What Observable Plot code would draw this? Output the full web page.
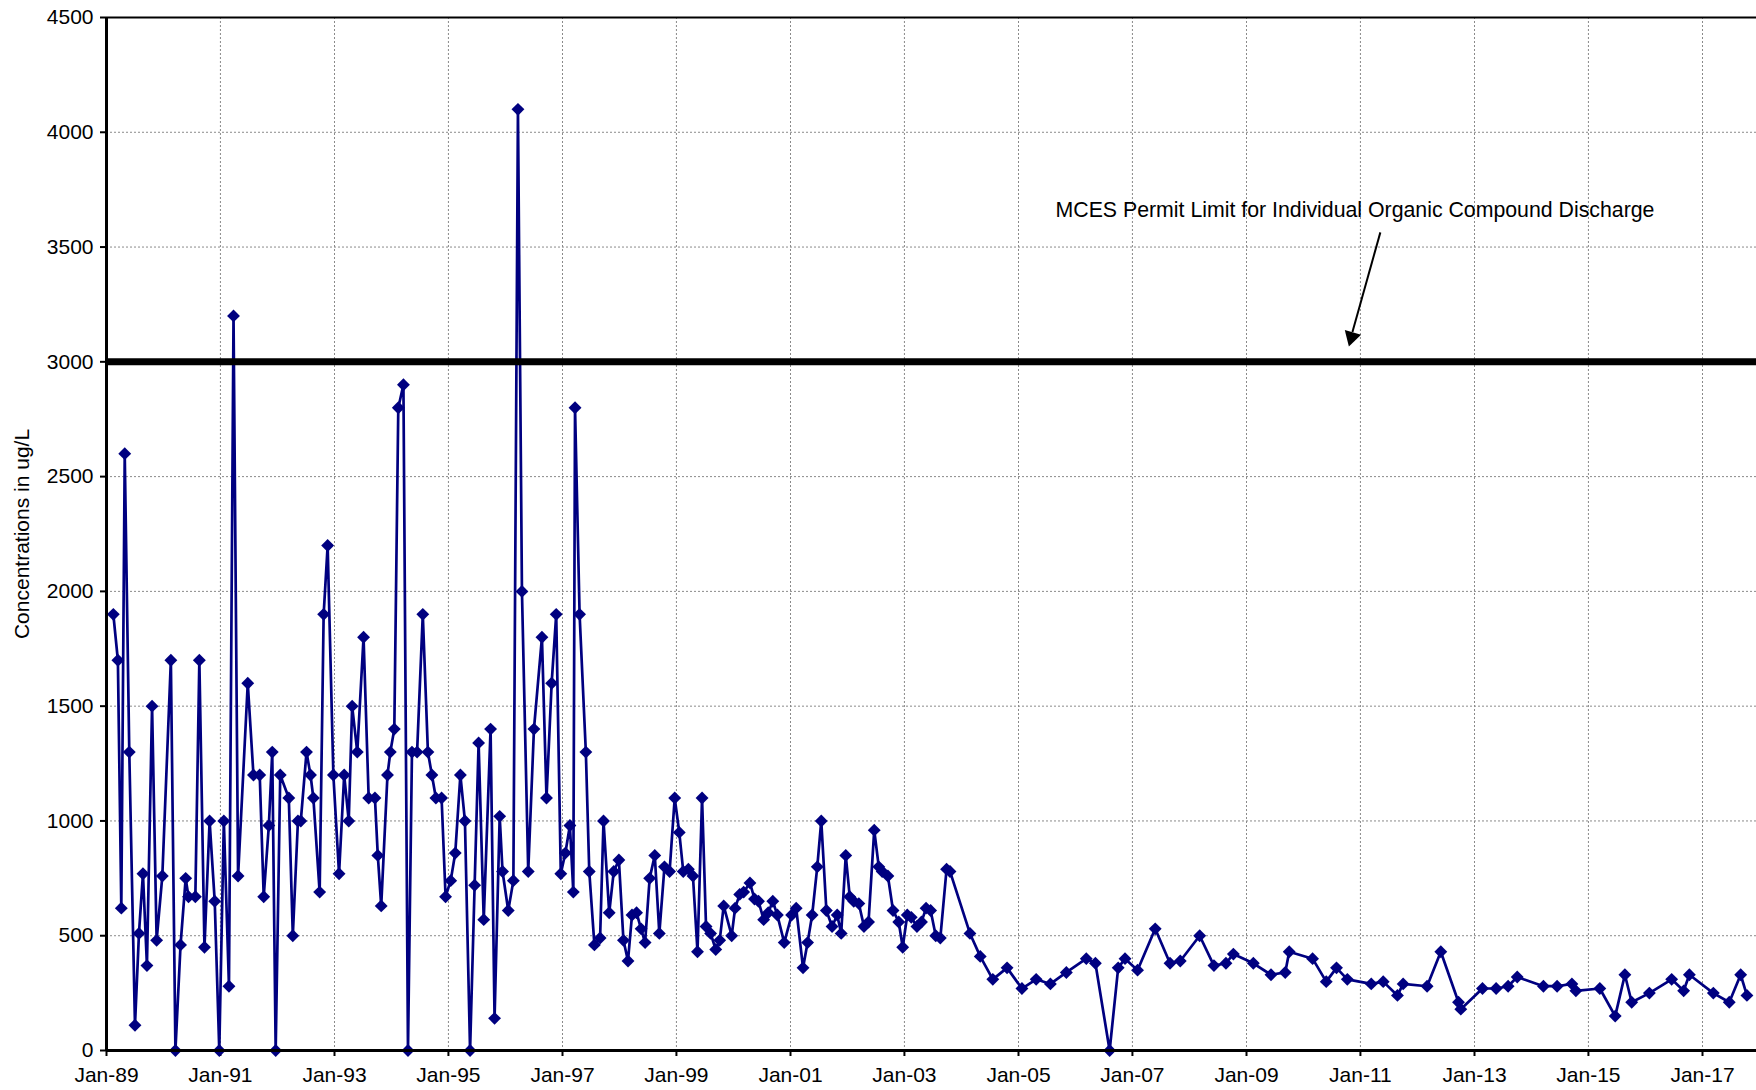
<!DOCTYPE html>
<html>
<head>
<meta charset="utf-8">
<script src="https://cdn.jsdelivr.net/npm/d3@7"></script>
<script src="https://cdn.jsdelivr.net/npm/@observablehq/plot@0.6"></script>
<style>
  html, body { margin: 0; padding: 0; background: #fff; }
  #chart svg { display: block; }
</style>
</head>
<body>
<div id="chart"></div>
<script>
// Sample dates (decimal years) and concentrations (ug/L)
const sampleYears = [
  1989.12, 1989.20, 1989.26, 1989.32, 1989.40, 1989.50, 1989.57, 1989.64, 1989.71, 1989.80, 1989.88, 1989.98,
  1990.13, 1990.21, 1990.30, 1990.39, 1990.44, 1990.56, 1990.63, 1990.72, 1990.81, 1990.90, 1990.98,
  1991.06, 1991.15, 1991.23, 1991.31, 1991.48, 1991.58, 1991.69, 1991.76, 1991.85, 1991.91, 1991.97,
  1992.05, 1992.20, 1992.27, 1992.36, 1992.41, 1992.51, 1992.58, 1992.63, 1992.74, 1992.81, 1992.88, 1992.98,
  1993.08, 1993.17, 1993.25, 1993.31, 1993.40, 1993.51, 1993.60, 1993.71, 1993.76, 1993.82, 1993.93, 1993.98,
  1994.05, 1994.12, 1994.21, 1994.29, 1994.36, 1994.45, 1994.55, 1994.64, 1994.71, 1994.78, 1994.88, 1994.95,
  1995.04, 1995.12, 1995.21, 1995.29, 1995.38, 1995.46, 1995.53, 1995.62, 1995.74, 1995.81, 1995.90, 1995.95,
  1996.05, 1996.14, 1996.22, 1996.29, 1996.40, 1996.50, 1996.64, 1996.72, 1996.81, 1996.89, 1996.97,
  1997.05, 1997.13, 1997.19, 1997.22, 1997.30, 1997.41, 1997.47, 1997.56, 1997.66, 1997.72, 1997.82, 1997.90, 1997.99,
  1998.07, 1998.15, 1998.22, 1998.30, 1998.38, 1998.45, 1998.53, 1998.62, 1998.70, 1998.79, 1998.88, 1998.97,
  1999.05, 1999.12, 1999.21, 1999.29, 1999.37, 1999.45, 1999.52, 1999.60, 1999.69, 1999.76, 1999.83, 1999.97,
  2000.03, 2000.11, 2000.18, 2000.29, 2000.37, 2000.44, 2000.53, 2000.61, 2000.69, 2000.77, 2000.89,
  2001.02, 2001.10, 2001.22, 2001.30, 2001.38, 2001.47, 2001.54, 2001.63, 2001.73, 2001.82, 2001.89, 2001.97,
  2002.04, 2002.11, 2002.20, 2002.29, 2002.37, 2002.47, 2002.55, 2002.61, 2002.71, 2002.80, 2002.90, 2002.97,
  2003.05, 2003.12, 2003.22, 2003.30, 2003.38, 2003.46, 2003.55, 2003.63, 2003.74, 2003.80,
  2004.15, 2004.33, 2004.55, 2004.80, 2005.06, 2005.31, 2005.56, 2005.84,
  2006.19, 2006.35, 2006.60, 2006.75, 2006.87, 2007.09, 2007.40, 2007.66, 2007.84,
  2008.18, 2008.43, 2008.64, 2008.77, 2009.12, 2009.43, 2009.68, 2009.75,
  2010.16, 2010.40, 2010.58, 2010.77, 2011.19, 2011.40, 2011.65, 2011.75,
  2012.17, 2012.41, 2012.72, 2012.76, 2013.14, 2013.38, 2013.59, 2013.75,
  2014.21, 2014.45, 2014.71, 2014.78, 2015.20, 2015.47, 2015.64, 2015.76,
  2016.07, 2016.46, 2016.67, 2016.77, 2017.19, 2017.47, 2017.67, 2017.78
];
const concentrations = [
  1900, 1700, 620, 2600, 1300, 110, 510, 770, 370, 1500, 480, 760,
  1700, 0, 460, 750, 670, 670, 1700, 450, 1000, 650, 0,
  1000, 280, 3200, 760, 1600, 1200, 1200, 670, 980, 1300, 0,
  1200, 1100, 500, 1000, 1000, 1300, 1200, 1100, 690, 1900, 2200, 1200,
  770, 1200, 1000, 1500, 1300, 1800, 1100, 1100, 850, 630, 1200, 1300,
  1400, 2800, 2900, 0, 1300, 1300, 1900, 1300, 1200, 1100, 1100, 670,
  740, 860, 1200, 1000, 0, 720, 1340, 570, 1400, 140, 1020, 780,
  610, 740, 4100, 2000, 780, 1400, 1800, 1100, 1600, 1900, 770,
  860, 980, 690, 2800, 1900, 1300, 780, 460, 490, 1000, 600, 780, 830,
  480, 390, 590, 600, 530, 470, 750, 850, 510, 800, 780, 1100,
  950, 780, 790, 760, 430, 1100, 540, 510, 440, 480, 630, 500,
  620, 680, 690, 730, 660, 650, 570, 600, 650, 590, 470,
  590, 620, 360, 470, 590, 800, 1000, 610, 540, 590, 510, 850,
  670, 650, 640, 540, 560, 960, 800, 780, 760, 610, 560, 450,
  590, 580, 540, 560, 620, 610, 500, 490, 790, 780,
  510, 410, 310, 360, 270, 310, 290, 340,
  400, 380, 0, 360, 400, 350, 530, 380, 390,
  500, 370, 380, 420, 380, 330, 340, 430,
  400, 300, 360, 310, 290, 300, 240, 290,
  280, 430, 210, 180, 270, 270, 280, 320,
  280, 280, 290, 260, 270, 150, 330, 210,
  250, 310, 260, 330, 250, 210, 330, 240
];
const xTickYears = [1989, 1991, 1993, 1995, 1997, 1999, 2001, 2003, 2005, 2007, 2009, 2011, 2013, 2015, 2017];
const yTickValues = [0, 500, 1000, 1500, 2000, 2500, 3000, 3500, 4000, 4500];
const xDomainYears = [1989.0, 2017.948];
const yDomain = [0, 4500];
const permitLimit = [3000];
const yAxisLabel = "Concentrations in ug/L";
const noteText = ["MCES Permit Limit for Individual Organic Compound Discharge"];
const noteAnchor = [{year: 2005.65, value: 3659}];
const noteArrowShaft = [{year1: 2011.35, value1: 3564, year2: 2010.86, value2: 3130}];
const noteArrowHead = [{year: 2010.845, value: 3108}];

function toDate(y) {
  const Y = Math.floor(y);
  const a = new Date(Y, 0, 1), b = new Date(Y + 1, 0, 1);
  return new Date(+a + (y - Y) * (b - a));
}

const data = sampleYears.map((y, i) => ({date: toDate(y), value: concentrations[i]}));
const xTicks = xTickYears.map(y => new Date(y, 0, 1));
const xDomain = xDomainYears.map(toDate);
const navy = "#000080";
const fmt = d3.timeFormat("%b-%y");

const chart = Plot.plot({
  width: 1756,
  height: 1090,
  marginLeft: 106,
  marginRight: 0,
  marginTop: 17,
  marginBottom: 40,
  style: {fontFamily: "'Liberation Sans', Arial, sans-serif", fontSize: "21px", color: "#000", background: "#fff", overflow: "visible"},
  x: {type: "time", domain: xDomain},
  y: {domain: yDomain},
  marks: [
    Plot.gridX(xTicks, {stroke: "#8a8a8a", strokeOpacity: 1, strokeWidth: 1, strokeDasharray: "2,2"}),
    Plot.gridY(yTickValues, {stroke: "#8a8a8a", strokeOpacity: 1, strokeWidth: 1, strokeDasharray: "2,2"}),
    Plot.axisX(xTicks, {tickSize: 6, tickPadding: 11, tickFormat: fmt, fontSize: 21, label: null, strokeWidth: 2}),
    Plot.axisY(yTickValues, {tickSize: 6, tickPadding: 7, tickFormat: d => String(d), fontSize: 21, label: null, strokeWidth: 2}),
    Plot.text([yAxisLabel], {frameAnchor: "left", textAnchor: "middle", dx: -84, rotate: -90, fontSize: 21, fill: "#000"}),
    Plot.line(data, {x: "date", y: "value", stroke: navy, strokeWidth: 2.7, strokeLinejoin: "miter"}),
    Plot.dot(data, {x: "date", y: "value", symbol: "diamond2", r: 5.8, fill: navy, stroke: "none"}),
    Plot.ruleY(permitLimit, {stroke: "#000", strokeWidth: 7}),
    Plot.ruleY([yDomain[1]], {stroke: "#000", strokeWidth: 2}),
    Plot.ruleY([yDomain[0]], {stroke: "#000", strokeWidth: 3}),
    Plot.ruleX([xDomain[0]], {stroke: "#000", strokeWidth: 3}),
    Plot.text(noteAnchor, {x: d => toDate(d.year), y: "value", text: () => noteText[0], textAnchor: "start", fontSize: 21.3, fill: "#000"}),
    Plot.link(noteArrowShaft, {x1: d => toDate(d.year1), y1: "value1", x2: d => toDate(d.year2), y2: "value2", stroke: "#000", strokeWidth: 2}),
    Plot.dot(noteArrowHead, {x: d => toDate(d.year), y: "value", symbol: "triangle", r: 6.3, fill: "#000", stroke: "none", rotate: 196})
  ]
});
document.getElementById("chart").appendChild(chart);
</script>
</body>
</html>
